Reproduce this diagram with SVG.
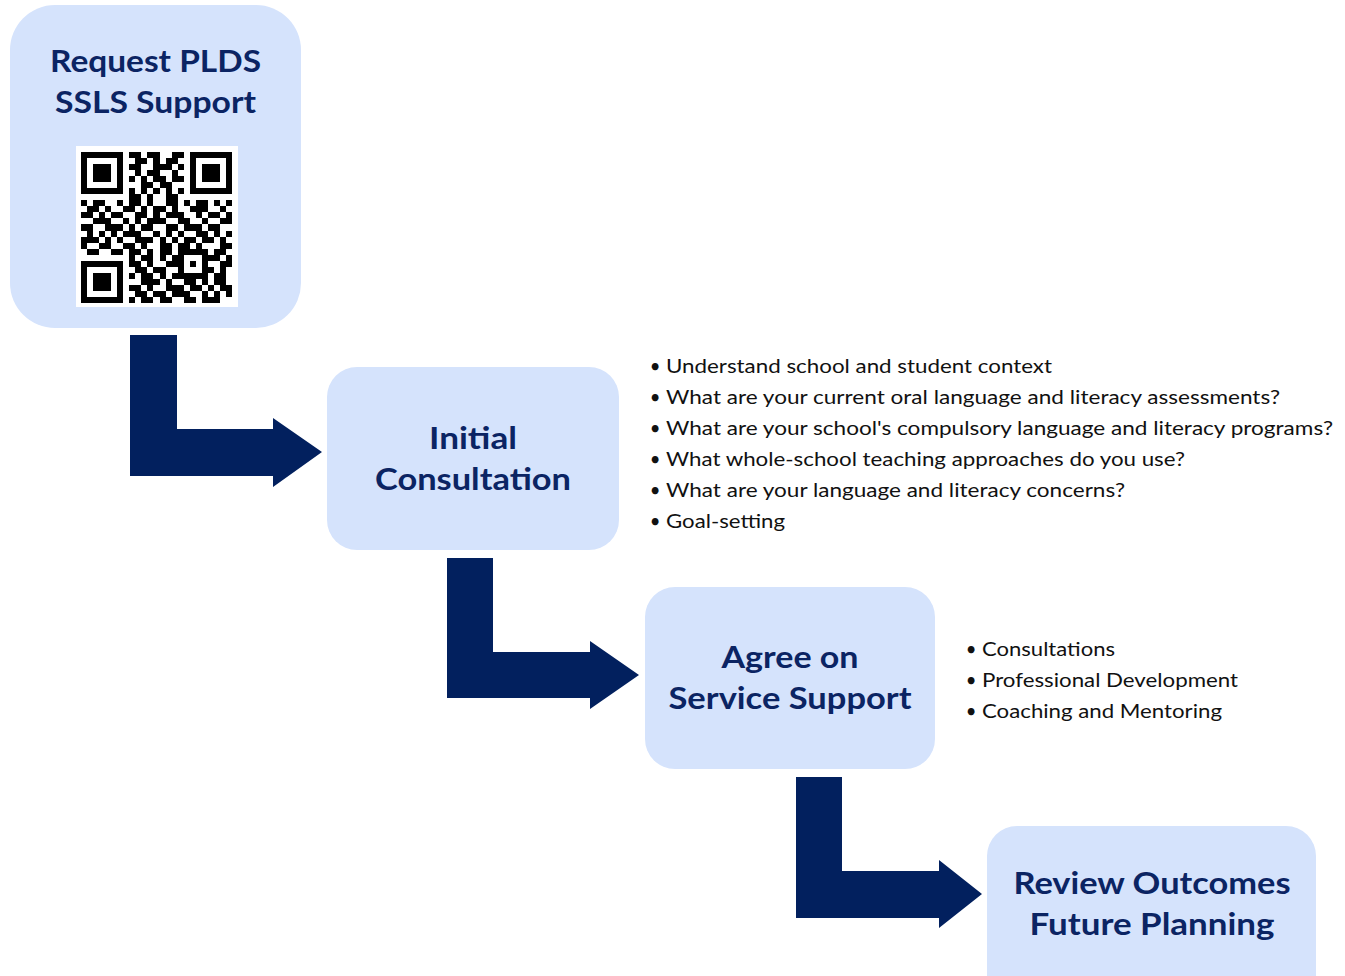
<svg xmlns="http://www.w3.org/2000/svg" width="1345" height="976" viewBox="0 0 1345 976">
<style>
.box{fill:#d5e3fc;}
.title{font-family:Lato,"Noto Sans",sans-serif;font-weight:700;font-size:31px;fill:#0b2463;text-anchor:middle;}
.body{font-family:Lato,"Noto Sans",sans-serif;font-size:18.5px;fill:#111;}
.bul{font-family:Lato,"Noto Sans",sans-serif;font-size:18.5px;fill:#111;text-anchor:middle;}
.arrow{fill:#02205e;}
</style>
<rect width="1345" height="976" fill="#ffffff"/>
<g id="connectors">
<path class="arrow" d="M130,335 H177 V429 H273 V418 L322,452 L273,487 V476 H130 Z"/>
<path class="arrow" d="M447,558 H493 V652 H590 V641 L639,675 L590,709 V698 H447 Z"/>
<path class="arrow" d="M796,777 H842 V871 H939 V860 L982,894 L939,928 V918 H796 Z"/>
</g>
<g id="node-request">
<rect class="box" x="10" y="5" width="291" height="323" rx="45"/>
<text class="title" x="155.5" y="72" textLength="211" lengthAdjust="spacingAndGlyphs">Request PLDS</text>
<text class="title" x="155.5" y="113" textLength="201" lengthAdjust="spacingAndGlyphs">SSLS Support</text>
<rect x="76" y="146" width="162" height="161" fill="#ffffff"/>
<path transform="translate(81,152) scale(6.04)" fill="#000" shape-rendering="crispEdges" d="M0 0h7v1h-7zM8 0h2v1h-2zM11 0h2v1h-2zM15 0h2v1h-2zM18 0h7v1h-7zM0 1h1v1h-1zM6 1h1v1h-1zM9 1h2v1h-2zM12 1h1v1h-1zM14 1h2v1h-2zM18 1h1v1h-1zM24 1h1v1h-1zM0 2h1v1h-1zM2 2h3v1h-3zM6 2h1v1h-1zM8 2h2v1h-2zM12 2h3v1h-3zM16 2h1v1h-1zM18 2h1v1h-1zM20 2h3v1h-3zM24 2h1v1h-1zM0 3h1v1h-1zM2 3h3v1h-3zM6 3h1v1h-1zM9 3h1v1h-1zM11 3h2v1h-2zM15 3h1v1h-1zM18 3h1v1h-1zM20 3h3v1h-3zM24 3h1v1h-1zM0 4h1v1h-1zM2 4h3v1h-3zM6 4h1v1h-1zM8 4h1v1h-1zM10 4h1v1h-1zM12 4h2v1h-2zM15 4h2v1h-2zM18 4h1v1h-1zM20 4h3v1h-3zM24 4h1v1h-1zM0 5h1v1h-1zM6 5h1v1h-1zM10 5h2v1h-2zM13 5h2v1h-2zM18 5h1v1h-1zM24 5h1v1h-1zM0 6h7v1h-7zM8 6h1v1h-1zM10 6h1v1h-1zM12 6h1v1h-1zM14 6h1v1h-1zM16 6h1v1h-1zM18 6h7v1h-7zM8 7h2v1h-2zM11 7h1v1h-1zM14 7h2v1h-2zM0 8h1v1h-1zM2 8h2v1h-2zM6 8h1v1h-1zM8 8h2v1h-2zM11 8h1v1h-1zM14 8h2v1h-2zM17 8h1v1h-1zM19 8h2v1h-2zM22 8h1v1h-1zM24 8h1v1h-1zM1 9h2v1h-2zM4 9h1v1h-1zM7 9h2v1h-2zM10 9h1v1h-1zM12 9h2v1h-2zM15 9h1v1h-1zM18 9h3v1h-3zM23 9h1v1h-1zM0 10h2v1h-2zM3 10h1v1h-1zM5 10h2v1h-2zM9 10h2v1h-2zM12 10h1v1h-1zM14 10h3v1h-3zM19 10h1v1h-1zM21 10h2v1h-2zM24 10h1v1h-1zM2 11h3v1h-3zM7 11h1v1h-1zM9 11h1v1h-1zM11 11h3v1h-3zM16 11h2v1h-2zM20 11h1v1h-1zM23 11h2v1h-2zM0 12h2v1h-2zM4 12h3v1h-3zM8 12h1v1h-1zM10 12h2v1h-2zM14 12h2v1h-2zM17 12h3v1h-3zM21 12h2v1h-2zM1 13h1v1h-1zM3 13h1v1h-1zM5 13h1v1h-1zM7 13h3v1h-3zM12 13h1v1h-1zM14 13h1v1h-1zM16 13h1v1h-1zM19 13h2v1h-2zM22 13h1v1h-1zM24 13h1v1h-1zM0 14h3v1h-3zM4 14h1v1h-1zM6 14h1v1h-1zM9 14h3v1h-3zM13 14h1v1h-1zM15 14h1v1h-1zM17 14h2v1h-2zM20 14h2v1h-2zM23 14h1v1h-1zM0 15h1v1h-1zM3 15h2v1h-2zM7 15h2v1h-2zM10 15h1v1h-1zM13 15h2v1h-2zM16 15h2v1h-2zM19 15h1v1h-1zM23 15h2v1h-2zM1 16h2v1h-2zM5 16h2v1h-2zM8 16h2v1h-2zM11 16h1v1h-1zM13 16h2v1h-2zM16 16h5v1h-5zM22 16h2v1h-2zM8 17h1v1h-1zM10 17h2v1h-2zM13 17h1v1h-1zM15 17h2v1h-2zM20 17h3v1h-3zM24 17h1v1h-1zM0 18h7v1h-7zM8 18h2v1h-2zM11 18h1v1h-1zM14 18h3v1h-3zM18 18h1v1h-1zM20 18h1v1h-1zM23 18h2v1h-2zM0 19h1v1h-1zM6 19h1v1h-1zM9 19h2v1h-2zM12 19h2v1h-2zM16 19h1v1h-1zM20 19h2v1h-2zM23 19h1v1h-1zM0 20h1v1h-1zM2 20h3v1h-3zM6 20h1v1h-1zM8 20h1v1h-1zM10 20h2v1h-2zM13 20h1v1h-1zM15 20h6v1h-6zM22 20h2v1h-2zM0 21h1v1h-1zM2 21h3v1h-3zM6 21h1v1h-1zM10 21h3v1h-3zM14 21h1v1h-1zM17 21h2v1h-2zM20 21h1v1h-1zM22 21h2v1h-2zM0 22h1v1h-1zM2 22h3v1h-3zM6 22h1v1h-1zM8 22h2v1h-2zM11 22h1v1h-1zM14 22h3v1h-3zM18 22h2v1h-2zM21 22h1v1h-1zM23 22h2v1h-2zM0 23h1v1h-1zM6 23h1v1h-1zM9 23h2v1h-2zM12 23h2v1h-2zM15 23h3v1h-3zM20 23h1v1h-1zM22 23h1v1h-1zM24 23h1v1h-1zM0 24h7v1h-7zM8 24h1v1h-1zM10 24h2v1h-2zM13 24h2v1h-2zM17 24h2v1h-2zM20 24h3v1h-3z"/>
</g>
<g id="node-initial">
<rect class="box" x="327" y="367" width="292" height="183" rx="30"/>
<text class="title" x="473" y="449" textLength="88" lengthAdjust="spacingAndGlyphs">Initial</text>
<text class="title" x="473" y="490" textLength="196" lengthAdjust="spacingAndGlyphs">Consultation</text>
</g>
<g id="notes-initial">
<text class="bul" x="655" y="373">•</text>
<text class="body" x="666" y="373" textLength="386" lengthAdjust="spacingAndGlyphs">Understand school and student context</text>
<text class="bul" x="655" y="404">•</text>
<text class="body" x="666" y="404" textLength="614" lengthAdjust="spacingAndGlyphs">What are your current oral language and literacy assessments?</text>
<text class="bul" x="655" y="435">•</text>
<text class="body" x="666" y="435" textLength="667" lengthAdjust="spacingAndGlyphs">What are your school's compulsory language and literacy programs?</text>
<text class="bul" x="655" y="466">•</text>
<text class="body" x="666" y="466" textLength="519" lengthAdjust="spacingAndGlyphs">What whole-school teaching approaches do you use?</text>
<text class="bul" x="655" y="497">•</text>
<text class="body" x="666" y="497" textLength="459" lengthAdjust="spacingAndGlyphs">What are your language and literacy concerns?</text>
<text class="bul" x="655" y="528">•</text>
<text class="body" x="666" y="528" textLength="119" lengthAdjust="spacingAndGlyphs">Goal-setting</text>
</g>
<g id="node-agree">
<rect class="box" x="645" y="587" width="290" height="182" rx="30"/>
<text class="title" x="790" y="668" textLength="137" lengthAdjust="spacingAndGlyphs">Agree on</text>
<text class="title" x="790" y="709" textLength="243" lengthAdjust="spacingAndGlyphs">Service Support</text>
</g>
<g id="notes-agree">
<text class="bul" x="971" y="656">•</text>
<text class="body" x="982" y="656" textLength="133" lengthAdjust="spacingAndGlyphs">Consultations</text>
<text class="bul" x="971" y="687">•</text>
<text class="body" x="982" y="687" textLength="256" lengthAdjust="spacingAndGlyphs">Professional Development</text>
<text class="bul" x="971" y="718">•</text>
<text class="body" x="982" y="718" textLength="240" lengthAdjust="spacingAndGlyphs">Coaching and Mentoring</text>
</g>
<g id="node-review">
<rect class="box" x="987" y="826" width="329" height="183" rx="30"/>
<text class="title" x="1152" y="894" textLength="277" lengthAdjust="spacingAndGlyphs">Review Outcomes</text>
<text class="title" x="1152" y="935" textLength="245" lengthAdjust="spacingAndGlyphs">Future Planning</text>
</g>
</svg>
